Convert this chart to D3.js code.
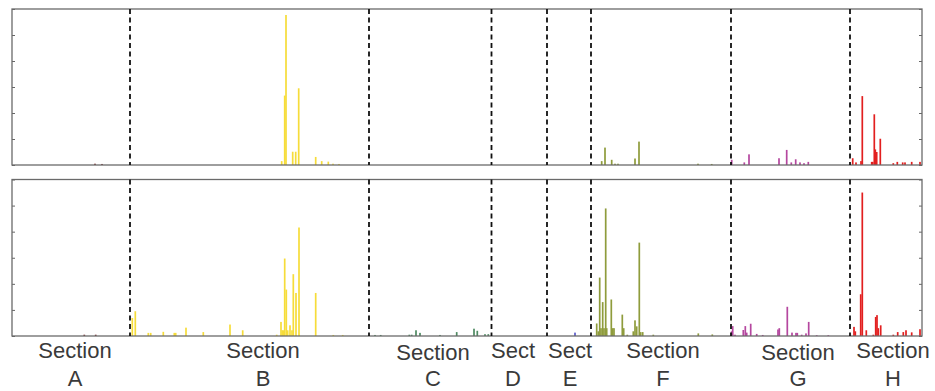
<!DOCTYPE html>
<html>
<head>
<meta charset="utf-8">
<script src="https://d3js.org/d3.v7.min.js"></script>
<style>
  body { margin: 0; background: #fff; }
  svg { display: block; }
  .label { font-family: "Liberation Sans", Arial, sans-serif; font-size: 22px; fill: #3a3a3a; }
</style>
</head>
<body>
<svg id="chart"></svg>
<script>
//////////////// Daten ////////////////////
const sections = ["A", "B", "C", "D", "E", "F", "G", "H"];
const sectionColors = {A: "#7a2e2e", B: "#f6dc3a", C: "#4f8a62", D: "#5a5ab8", E: "#5a5ac8",
  F: "#8f9c3c", G: "#b5479f", H: "#e21f1f"};
const boundaries = [118, 357, 479.5, 535, 579, 719, 838];         // Grenzen zwischen den Abschnitten
const labelPos = [63, 251, 421, 501, 558, 651, 786, 881];          // Mitte der Beschriftung
const labelLine1 = ["Section", "Section", "Section", "Sect", "Sect", "Section", "Section", "Section"];
const yTicks = [0, 1, 2, 3, 4, 5, 6];

// [Position, Wert] je Abschnitt
const topBars = {
  A: [[83, 0.05], [90, 0.04]],
  B: [[269.7, 0.15], [272.7, 2.67], [274, 5.77], [280.7, 0.51], [283.7, 0.51], [286.7, 2.95],
      [303.7, 0.31], [309.7, 0.15], [316.3, 0.13], [321, 0.05], [327, 0.04]],
  C: [], D: [], E: [],
  F: [[589.7, 0.15], [593, 0.67], [599.7, 0.2], [603, 0.05], [606, 0.05], [623, 0.25],
      [627, 0.9], [686, 0.05], [699.7, 0.04]],
  G: [[719.7, 0.2], [732.3, 0.1], [737, 0.41], [767, 0.26], [774.7, 0.58], [779.3, 0.1],
      [783.7, 0.22], [788, 0.1], [792, 0.07], [796.3, 0.12]],
  H: [[840.7, 0.26], [844, 0.1], [849, 0.15], [850.3, 2.65], [859.7, 0.12], [860.7, 0.12],
      [862.3, 1.95], [863.3, 0.6], [864.7, 0.5], [868.3, 1.01], [881.3, 0.07], [885.3, 0.12],
      [890.7, 0.1], [893, 0.1], [899.7, 0.12], [908, 0.12]]
};
const bottomBars = {
  A: [[72.3, 0.05], [83.7, 0.05]],
  B: [[120.3, 0.69], [123.3, 0.95], [136.3, 0.12], [138.7, 0.12], [151.3, 0.16], [162.3, 0.12],
      [163.7, 0.12], [174, 0.32], [191.3, 0.15], [218, 0.44], [230.7, 0.22], [264.7, 0.05],
      [269, 0.54], [270.3, 0.22], [271.3, 0.22], [272.7, 2.97], [274.3, 1.78], [275.7, 0.22],
      [278, 0.41], [280, 0.22], [281.3, 2.37], [284, 1.65], [287, 4.16], [303.7, 1.65],
      [321.3, 0.04], [330.7, 0.04]],
  C: [[363, 0.04], [368.7, 0.04], [397.3, 0.05], [399.7, 0.05], [404, 0.22], [408, 0.12],
      [428, 0.04], [444.7, 0.15], [462, 0.28], [465.3, 0.2], [473, 0.07], [476.3, 0.07]],
  D: [],
  E: [[563, 0.13]],
  F: [[584.7, 0.48], [586.3, 0.18], [587.7, 2.24], [589, 0.3], [590.7, 1.3], [592, 0.3],
      [593.7, 4.89], [594.7, 0.3], [599.3, 1.4], [600.7, 0.3], [602, 0.3], [610.3, 0.82],
      [611.7, 0.3], [615.3, 0.05], [621.3, 0.18], [623, 0.6], [624.7, 0.37], [627.3, 3.58],
      [628.7, 0.15], [630.7, 0.15], [641.3, 0.05], [686.3, 0.1], [700.3, 0.06]],
  G: [[719.7, 0.18], [720.7, 0.38], [723, 0.05], [731.3, 0.23], [733.3, 0.38], [734.7, 0.13],
      [738.7, 0.47], [744.7, 0.08], [750.7, 0.04], [766, 0.25], [767.3, 0.3], [775.3, 1.12],
      [780, 0.13], [784, 0.12], [785.3, 0.12], [789.7, 0.05], [794, 0.1], [796.7, 0.54],
      [804.7, 0.03], [816.3, 0.03]],
  H: [[842, 0.35], [843.3, 0.18], [848.7, 1.6], [850.3, 5.5], [854.3, 0.22], [861.3, 0.05],
      [863.7, 0.73], [865, 0.8], [866.3, 0.3], [868.7, 0.41], [881.3, 0.05], [885.7, 0.15],
      [891.3, 0.15], [894, 0.22], [899.7, 0.14], [908, 0.26]]
};

//////////////// Konstanten ////////////////////
const W = 935, H = 391;
const left = 12, right = 922;
const panels = [
  {top: 9, bottom: 165, bars: topBars},
  {top: 179.5, bottom: 336, bars: bottomBars}
];
const barWidth = 1.7;

const svg = d3.select("#chart").attr("width", W).attr("height", H);

const x = d3.scaleLinear().domain([0, 910]).range([left, right]);

//////////////// Panels ///////////////
panels.forEach(function(p) {
  const y = d3.scaleLinear().domain([0, 6]).range([p.bottom, p.top]);
  const g = svg.append("g");

  // Balken
  sections.forEach(function(s) {
    g.selectAll("rect.bar" + s)
      .data(p.bars[s])
      .enter()
      .append("rect")
      .attr("class", "bar" + s)
      .attr("x", function(d) { return x(d[0]) - barWidth / 2; })
      .attr("y", function(d) { return y(d[1]); })
      .attr("width", barWidth)
      .attr("height", function(d) { return p.bottom - y(d[1]); })
      .attr("fill", sectionColors[s]);
  });

  // Achsen ohne Beschriftung, Ticks nach innen
  g.append("g")
    .attr("transform", "translate(" + left + ",0)")
    .call(d3.axisRight(y).tickValues(yTicks).tickSize(3).tickFormat(""))
    .call(function(a) { a.select(".domain").remove(); })
    .selectAll("line").attr("stroke", "#666");
  g.append("g")
    .attr("transform", "translate(" + right + ",0)")
    .call(d3.axisLeft(y).tickValues(yTicks).tickSize(3).tickFormat(""))
    .call(function(a) { a.select(".domain").remove(); })
    .selectAll("line").attr("stroke", "#666");

  // Rahmen
  g.append("rect")
    .attr("x", left).attr("y", p.top)
    .attr("width", right - left).attr("height", p.bottom - p.top)
    .attr("fill", "none")
    .attr("stroke", "#6a6a6a")
    .attr("stroke-width", 1.3);

  // gestrichelte Trennlinien
  g.selectAll("line.divider")
    .data(boundaries)
    .enter()
    .append("line")
    .attr("class", "divider")
    .attr("x1", function(d) { return x(d); })
    .attr("x2", function(d) { return x(d); })
    .attr("y1", p.top)
    .attr("y2", p.bottom)
    .attr("stroke", "#111")
    .attr("stroke-width", 1.8)
    .attr("stroke-dasharray", "5,3.5");
});

//////////////// Beschriftung ///////////////
const labels = svg.selectAll("g.label")
  .data(sections)
  .enter()
  .append("g")
  .attr("class", "label")
  .attr("transform", function(d, i) { return "translate(" + x(labelPos[i]) + ",0)"; });

labels.append("text")
  .attr("text-anchor", "middle")
  .attr("y", function(d) { return (d === "C" || d === "G") ? 360 : 358; })
  .text(function(d, i) { return labelLine1[i]; });

labels.append("text")
  .attr("text-anchor", "middle")
  .attr("y", 386)
  .text(function(d) { return d; });
</script>
</body>
</html>
